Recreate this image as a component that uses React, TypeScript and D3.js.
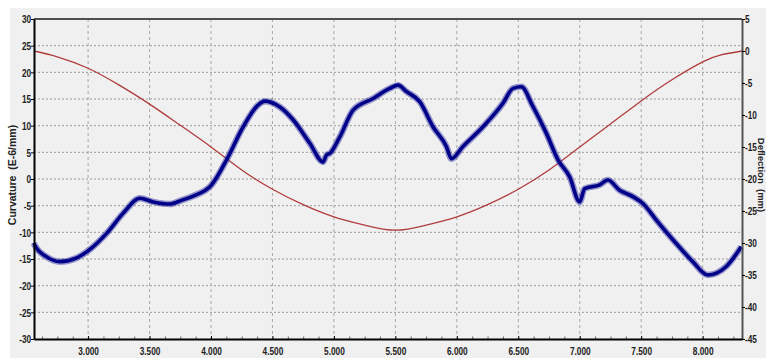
import { useEffect, useRef } from 'react';
import * as d3 from 'd3';

// deflection (mm), right axis
const deflX = [2560, 2750, 3000, 3250, 3500, 3750, 4000, 4250, 4500, 4750, 5000, 5250, 5500, 5750, 6000, 6250, 6500, 6750, 7000, 7250, 7500, 7750, 8000, 8150, 8320];
const deflY = [0, -0.9, -2.7, -5.3, -8.3, -11.6, -15.0, -18.6, -21.6, -24.0, -25.9, -27.2, -28.0, -27.2, -25.9, -24.0, -21.6, -18.6, -15.0, -11.4, -7.8, -4.5, -1.7, -0.6, 0];

// curvature (E-6/mm), left axis
const curvX = [2560, 2568, 2663, 2771, 2907, 3015, 3151, 3286, 3422, 3530, 3666, 3760, 3855, 4005, 4127, 4262, 4380, 4438, 4560, 4668, 4804, 4912, 4940, 4967, 5048, 5156, 5319, 5454, 5522, 5590, 5698, 5806, 5915, 5956, 6050, 6213, 6375, 6457, 6525, 6619, 6728, 6823, 6918, 6999, 7040, 7162, 7229, 7324, 7432, 7514, 7623, 7785, 7920, 8042, 8192, 8314];
const curvY = [-12.0, -12.5, -14.6, -15.5, -14.8, -13.2, -10.2, -6.4, -3.6, -4.3, -4.7, -4.0, -3.2, -1.1, 3.6, 9.8, 13.8, 14.6, 13.5, 11.1, 6.7, 3.2, 4.5, 4.8, 7.9, 12.9, 15.1, 17.0, 17.6, 16.4, 14.5, 9.8, 6.1, 3.8, 6.1, 9.8, 14.2, 17.0, 17.3, 13.6, 8.6, 3.6, 0.4, -4.3, -1.8, -1.1, -0.2, -2.1, -3.3, -4.6, -7.7, -12.1, -15.5, -18.0, -16.4, -12.7];

const xTicks = [3000, 3500, 4000, 4500, 5000, 5500, 6000, 6500, 7000, 7500, 8000];
const leftTicks = [30, 25, 20, 15, 10, 5, 0, -5, -10, -15, -20, -25, -30];
const rightTicks = [5, 0, -5, -10, -15, -20, -25, -30, -35, -40, -45];

const FONT = "'Liberation Sans', Arial, sans-serif";

export default function App() {
  const svgRef = useRef<SVGSVGElement>(null);

  useEffect(() => {
    if (!svgRef.current) return;
    const svg = d3.select(svgRef.current);
    svg.selectAll('*').remove();

    const width = 766, height = 358;
    const margin = { top: 19, right: 24, bottom: 19, left: 34 };
    const x0 = margin.left, x1 = width - margin.right;
    const y0 = margin.top, y1 = height - margin.bottom;

    const x = d3.scaleLinear().domain([2560, 8320]).range([x0, x1]);
    const yL = d3.scaleLinear().domain([-30, 30]).range([y1, y0]);
    const yR = d3.scaleLinear().domain([-45, 5]).range([y1, y0]);

    const locale = d3.formatLocale({ decimal: ',', thousands: '.', grouping: [3], currency: ['', ''] });
    const fmtX = locale.format(',.0f');

    // backgrounds
    svg.append('rect').attr('width', width).attr('height', height).attr('fill', '#ffffff');
    svg.append('rect').attr('x', 10).attr('y', 8).attr('width', width - 10).attr('height', height - 8).attr('fill', '#f0f0f0');

    // grid
    const grid = svg.append('g');
    grid.selectAll('line.h')
      .data(leftTicks.filter(d => d !== 30 && d !== -30))
      .join('line')
      .attr('x1', x0).attr('x2', x1)
      .attr('y1', d => yL(d)).attr('y2', d => yL(d))
      .attr('stroke', '#9a9a9a').attr('stroke-width', 1).attr('stroke-dasharray', '2,2');
    grid.selectAll('line.v')
      .data(xTicks)
      .join('line')
      .attr('x1', d => x(d)).attr('x2', d => x(d))
      .attr('y1', y0).attr('y2', y1)
      .attr('stroke', '#a8a8a8').attr('stroke-width', 1).attr('stroke-dasharray', '3,3');

    // deflection line
    const deflLine = d3.line<number>()
      .x((_, i) => x(deflX[i]))
      .y(d => yR(d))
      .curve(d3.curveNatural);
    svg.append('path')
      .datum(deflY)
      .attr('fill', 'none')
      .attr('stroke', '#b03c3c')
      .attr('stroke-width', 1.3)
      .attr('d', deflLine);

    // curvature line (noisy signal drawn as a thick band)
    const curvLine = d3.line<number>()
      .x((_, i) => x(curvX[i]))
      .y(d => yL(d))
      .curve(d3.curveMonotoneX);
    svg.append('path')
      .datum(curvY)
      .attr('fill', 'none')
      .attr('stroke', '#3a3aa8')
      .attr('stroke-opacity', 0.5)
      .attr('stroke-width', 6.5)
      .attr('stroke-linejoin', 'round')
      .attr('d', curvLine);
    svg.append('path')
      .datum(curvY)
      .attr('fill', 'none')
      .attr('stroke', '#000088')
      .attr('stroke-width', 3.6)
      .attr('stroke-linejoin', 'round')
      .attr('d', curvLine);

    // top border
    svg.append('line')
      .attr('x1', x0).attr('x2', x1).attr('y1', y0).attr('y2', y0)
      .attr('stroke', '#505050').attr('stroke-width', 2);

    // left axis
    const gL = svg.append('g')
      .attr('transform', `translate(${x0},0)`)
      .call(d3.axisLeft(yL).tickValues(leftTicks).tickSize(3).tickSizeOuter(0).tickPadding(1).tickFormat(d => String(d)));
    gL.select('.domain').attr('stroke', '#000').attr('stroke-width', 2);

    // right axis
    const gR = svg.append('g')
      .attr('transform', `translate(${x1},0)`)
      .call(d3.axisRight(yR).tickValues(rightTicks).tickSize(3).tickSizeOuter(0).tickPadding(1).tickFormat(d => String(d)));
    gR.select('.domain').attr('stroke', '#555').attr('stroke-width', 2);

    // bottom axis with minor ticks
    const minor = d3.range(2625, 8320, 125).filter(v => !xTicks.includes(v));
    svg.append('g')
      .attr('transform', `translate(0,${y1})`)
      .call(d3.axisBottom(x).tickValues(minor).tickSize(-2.5).tickSizeOuter(0).tickFormat(() => ''))
      .call(g => g.select('.domain').remove())
      .selectAll('line').attr('stroke', '#666');
    const gB = svg.append('g')
      .attr('transform', `translate(0,${y1})`)
      .call(d3.axisBottom(x).tickValues(xTicks).tickSize(-3).tickSizeOuter(0).tickPadding(8).tickFormat(d => fmtX(d as number)));
    gB.select('.domain').attr('stroke', '#000').attr('stroke-width', 2);

    svg.selectAll('.tick text')
      .attr('font-family', FONT)
      .attr('font-size', 11.5)
      .attr('font-weight', 'bold')
      .attr('fill', '#222')
      .attr('transform', 'scale(0.72,1)');

    // axis titles
    svg.append('text')
      .attr('transform', `translate(16,175) rotate(-90)`)
      .attr('text-anchor', 'middle')
      .attr('font-family', FONT)
      .attr('font-size', 10.5)
      .attr('font-weight', 'bold')
      .attr('fill', '#222')
      .attr('xml:space', 'preserve')
      .text('Curvature  (E-6/mm)');
    svg.append('text')
      .attr('transform', `translate(758,175) rotate(90)`)
      .attr('text-anchor', 'middle')
      .attr('font-family', FONT)
      .attr('font-size', 9.5)
      .attr('font-weight', 'bold')
      .attr('fill', '#222')
      .attr('xml:space', 'preserve')
      .text('Deflection  (mm)');
  }, []);

  return (
    <svg
      ref={svgRef}
      width={766}
      height={358}
      style={{ position: 'absolute', left: 0, top: 0 }}
    />
  );
}
